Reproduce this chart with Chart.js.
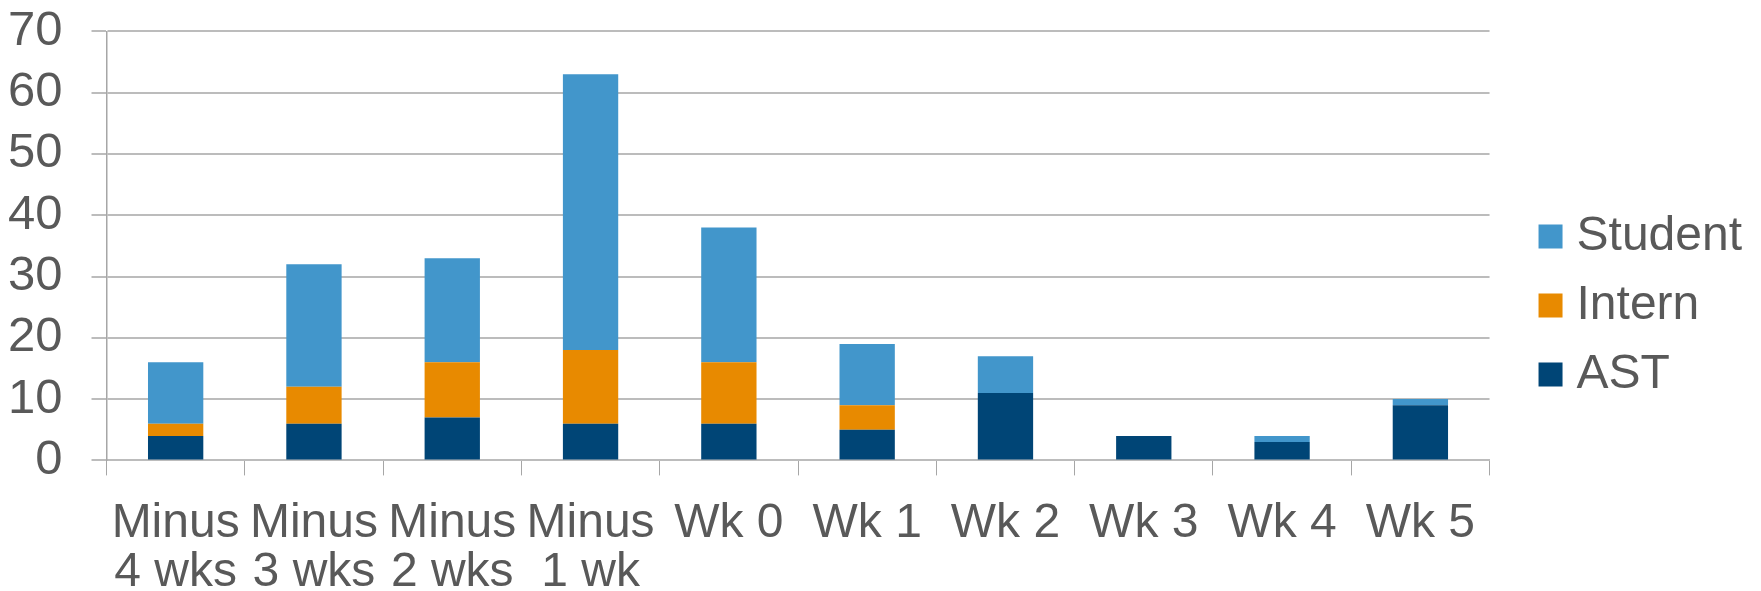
<!DOCTYPE html>
<html>
<head>
<meta charset="utf-8">
<script src="https://cdn.jsdelivr.net/npm/chart.js@4.4.1/dist/chart.umd.min.js"></script>
<style>
  body { margin: 0; background: #fff; }
</style>
</head>
<body>
<canvas id="myChart" width="1761" height="591"></canvas>
<script>
// du lieu doc tu hinh
var categories = [['Minus', '4 wks'], ['Minus', '3 wks'], ['Minus', '2 wks'], ['Minus', '1 wk'],
                  'Wk 0', 'Wk 1', 'Wk 2', 'Wk 3', 'Wk 4', 'Wk 5'];
var astData     = [4, 6, 7, 6, 6, 5, 11, 4, 3, 9];
var internData  = [2, 6, 9, 12, 10, 4, 0, 0, 0, 0];
var studentData = [10, 20, 17, 45, 22, 10, 6, 0, 1, 1];
var yMin = 0, yMax = 70, yStep = 10;

var textColor = '#595959';
Chart.defaults.font.family = "'Liberation Sans', Arial, sans-serif";
Chart.defaults.color = textColor;

var chart = new Chart('myChart', {
    type: 'bar',
    data: {
        labels: categories,
        datasets: [{
            label: 'AST',
            backgroundColor: '#004576',
            data: astData
        }, {
            label: 'Intern',
            backgroundColor: '#E88A00',
            data: internData
        }, {
            label: 'Student',
            backgroundColor: '#4296CB',
            data: studentData
        }]
    },
    options: {
        responsive: false,
        animation: false,
        devicePixelRatio: 1,
        layout: { padding: { top: 20, right: 9, bottom: 0, left: 0 } },
        datasets: {
            bar: { barPercentage: 0.4, categoryPercentage: 1, borderWidth: 0 }
        },
        scales: {
            x: {
                stacked: true,
                grid: { drawOnChartArea: false, tickLength: 15, color: '#a6a6a6', lineWidth: 1 },
                border: { display: true, color: '#bcbcbc', width: 2 },
                ticks: { font: { size: 48, lineHeight: 1.02 }, padding: 24, maxRotation: 0, autoSkip: false },
                afterFit: function (scale) { scale.height = 130.6; }
            },
            y: {
                stacked: true,
                min: yMin,
                max: yMax,
                ticks: { stepSize: yStep, font: { size: 49, lineHeight: 1 }, padding: 29, autoSkip: false },
                grid: { color: '#bcbcbc', lineWidth: 2, tickLength: 15 },
                border: { display: true, color: '#a6a6a6', width: 1.5 },
                afterFit: function (scale) {
                    scale.width = 106.5;
                    scale.paddingTop = 31.4;
                }
            },
            // truc an de tao khoang trong giua bieu do va chu thich
            yr: {
                position: 'right',
                min: yMin,
                max: yMax,
                grid: { display: false },
                border: { display: false },
                ticks: { display: false },
                afterFit: function (scale) { scale.width = 38; }
            }
        },
        plugins: {
            legend: {
                position: 'right',
                reverse: true,
                labels: {
                    // o mau nho + vien day = o vuong 24px, khoang cach toi chu hep hon
                    boxWidth: 4,
                    boxHeight: 4,
                    padding: 21,
                    font: { size: 48 },
                    color: textColor,
                    generateLabels: function (chart) {
                        var items = Chart.defaults.plugins.legend.labels.generateLabels(chart);
                        items.forEach(function (item) {
                            item.lineWidth = 20;
                            item.strokeStyle = item.fillStyle;
                        });
                        return items;
                    }
                }
            },
            tooltip: { enabled: false }
        }
    }
});
</script>
</body>
</html>
